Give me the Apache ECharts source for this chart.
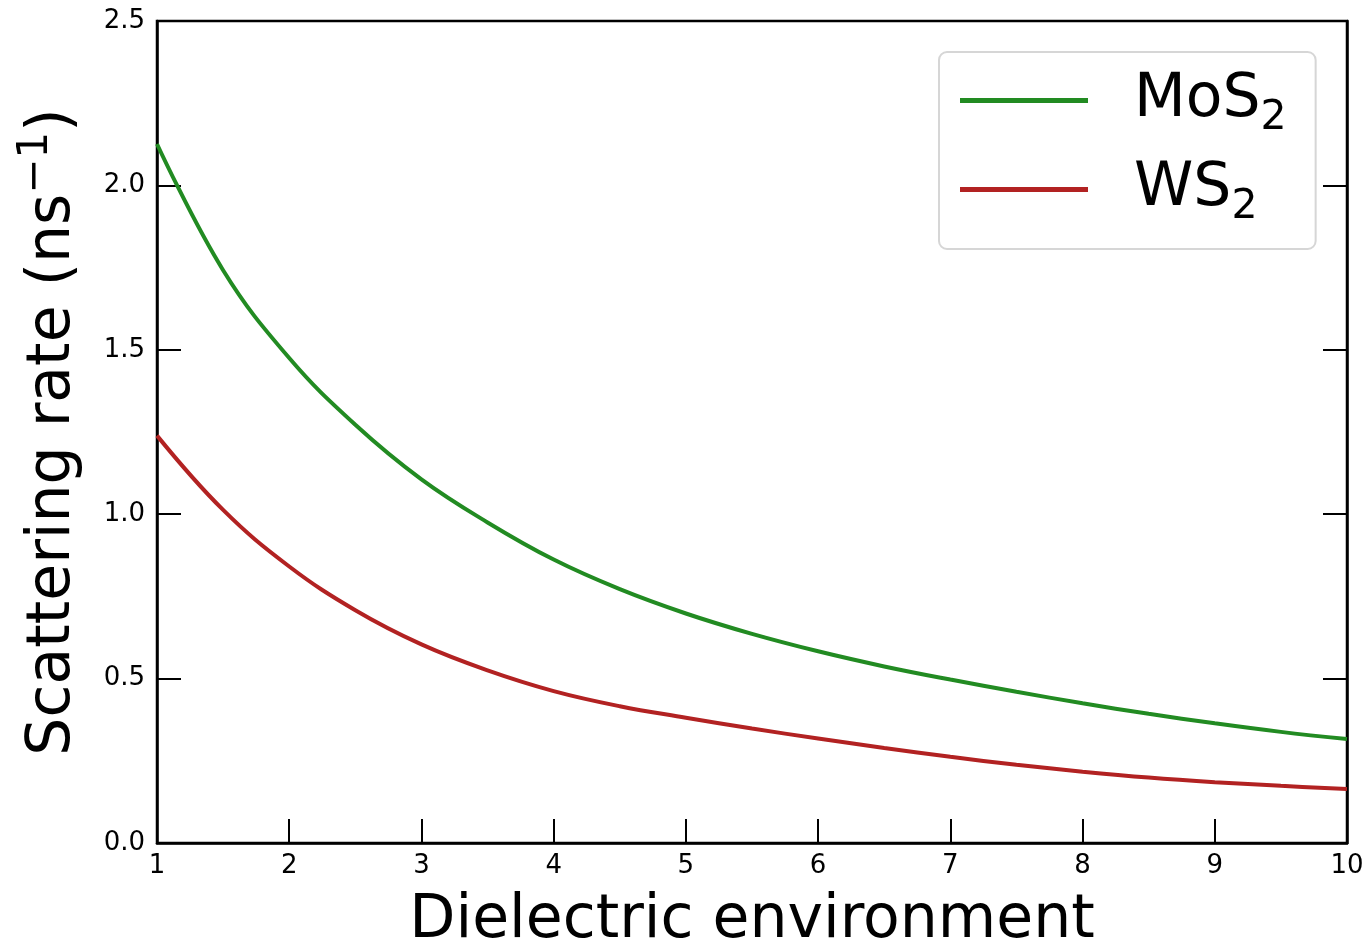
<!DOCTYPE html>
<html>
<head>
<meta charset="utf-8">
<script src="https://cdn.jsdelivr.net/npm/echarts@6/dist/echarts.min.js"></script>
<style>
html,body{margin:0;padding:0;background:#fff;}
#chart{width:1368px;height:947px;}
</style>
</head>
<body>
<div id="chart"></div>
<script>
// Data
var xValues  = [1, 1.5, 2, 2.5, 3, 3.5, 4, 4.5, 5, 5.5, 6, 6.5, 7, 7.5, 8, 8.5, 9, 9.5, 10];
var mos2Rate = [2.126, 1.742, 1.475, 1.272, 1.106, 0.975, 0.862, 0.772, 0.698, 0.636, 0.583, 0.537, 0.497, 0.460, 0.425, 0.393, 0.364, 0.338, 0.316];
var ws2Rate  = [1.239, 1.013, 0.841, 0.708, 0.604, 0.525, 0.462, 0.416, 0.381, 0.348, 0.318, 0.289, 0.262, 0.238, 0.217, 0.199, 0.185, 0.174, 0.164];
var seriesNames = ['MoS2', 'WS2'];
var legendLabels = {'MoS2': ['MoS', '2'], 'WS2': ['WS', '2']};
var xTitle = 'Dielectric environment';
var yTitleMain = 'Scattering rate (ns';
var yTitleSup = '\u22121';

function pairs(xs, ys){ return xs.map(function(x,i){ return [x, ys[i]]; }); }

var font = 'DejaVu Sans';
var chart = echarts.init(document.getElementById('chart'), null, {renderer:'canvas'});
chart.setOption({
  backgroundColor: '#ffffff',
  animation: false,
  grid: {left:157, right:21, top:21, bottom:104, outerBoundsMode:'none', containLabel:false, show:true, borderColor:'#000', borderWidth:2.5, backgroundColor:'transparent'},
  legend: {
    orient: 'vertical',
    left: 939, top: 52,
    padding: [10, 29, 21, 21],
    itemWidth: 128, itemHeight: 5, itemGap: 12,
    icon: 'rect',
    backgroundColor: '#fff',
    borderColor: '#d6d6d6', borderWidth: 2, borderRadius: 8,
    formatter: function(name){ var p = legendLabels[name]; return '{a|' + p[0] + '}{s|' + p[1] + '}'; },
    textStyle: {
      fontFamily: font, fontSize: 60, color:'#000', padding:[0,0,0,41],
      rich: {
        a: {fontFamily: font, fontSize: 60, lineHeight: 60, color:'#000'},
        s: {fontFamily: font, fontSize: 41, lineHeight: 42, padding:[36,0,0,0], color:'#000'}
      }
    },
    data: seriesNames
  },
  xAxis: {
    type: 'value', min: 1, max: 10, interval: 1,
    name: xTitle, nameLocation: 'middle', nameGap: 48,
    nameTextStyle: {fontFamily: font, fontSize: 60, color:'#000'},
    axisLine: {show:true, lineStyle:{color:'#000', width:2.5}},
    axisTick: {show:true, inside:true, length:24, lineStyle:{color:'#000', width:2}},
    axisLabel: {fontFamily: font, fontSize: 26, color:'#000', margin: 10},
    splitLine: {show:false}
  },
  yAxis: [{
    type: 'value', min: 0, max: 2.5, interval: 0.5,
    name: '{a|' + yTitleMain + '}{p|' + yTitleSup + '}{a|)}', nameLocation: 'middle', nameGap: 72, nameRotate: 90,
    nameTextStyle: {
      fontFamily: font, fontSize: 60, color:'#000',
      rich: {
        a: {fontFamily: font, fontSize: 60, lineHeight: 60, color:'#000'},
        p: {fontFamily: font, fontSize: 42, lineHeight: 42, padding:[0,0,36,0], color:'#000'}
      }
    },
    axisLine: {show:true, lineStyle:{color:'#000', width:2.5}},
    axisTick: {show:true, inside:true, length:24, lineStyle:{color:'#000', width:2}},
    axisLabel: {fontFamily: font, fontSize: 26, color:'#000', margin: 12, formatter: function(v){ return v.toFixed(1); }},
    splitLine: {show:false}
  },{
    type: 'value', min: 0, max: 2.5, interval: 0.5, position: 'right',
    axisLine: {show:true, lineStyle:{color:'#000', width:2.5}},
    axisTick: {show:true, inside:true, length:24, lineStyle:{color:'#000', width:2}},
    axisLabel: {show:false},
    splitLine: {show:false}
  }],
  series: [{
    name: seriesNames[0], type: 'line', smooth: 0.4, showSymbol: false,
    color: '#228B22', lineStyle: {width: 4, color:'#228B22'},
    data: pairs(xValues, mos2Rate)
  },{
    name: seriesNames[1], type: 'line', smooth: 0.4, showSymbol: false,
    color: '#B22222', lineStyle: {width: 4, color:'#B22222'},
    data: pairs(xValues, ws2Rate)
  }]
});
</script>
</body>
</html>
